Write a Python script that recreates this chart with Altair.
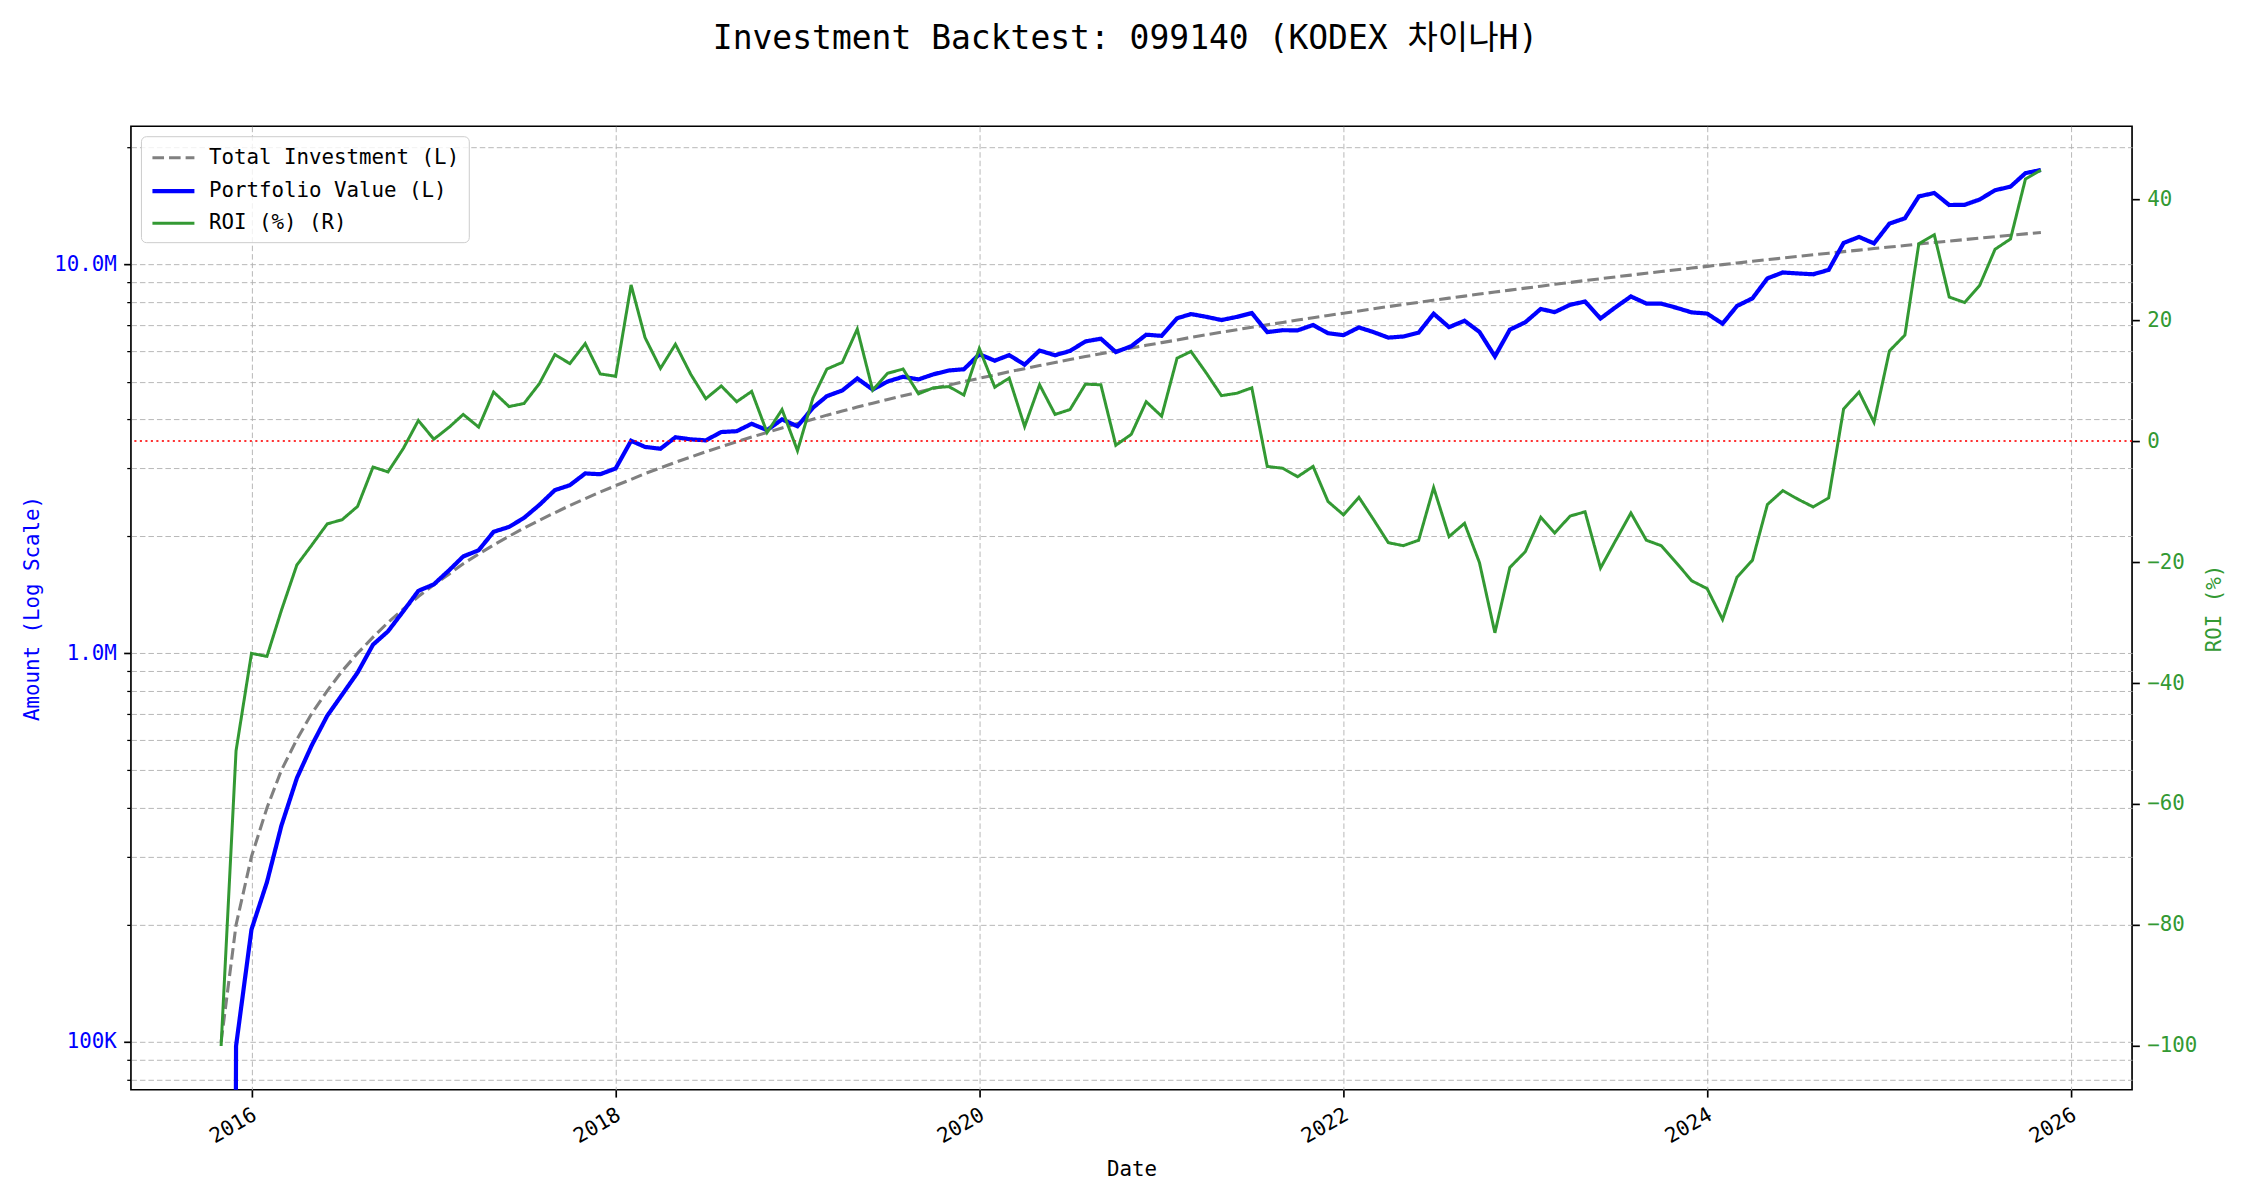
import altair as alt
import numpy as np
import pandas as pd

TITLE = "Investment Backtest: 099140 (KODEX 차이나H)"
SERIES = ["Total Investment (L)", "Portfolio Value (L)", "ROI (%) (R)"]
COLORS = ["#808080", "#0000ff", "#339933"]
DASHES = [[11.6, 5], [1, 0], [1, 0]]
WIDTHS = [3.1, 4.2, 3.0]

# monthly observation dates (month starts)
first_month = "2015-11-01"
n_months = 121
dates = pd.date_range(first_month, periods=n_months, freq="MS").strftime("%Y-%m-%d").tolist()

# cumulative amount invested, thousand KRW
investment_k = [
    100, 200, 300, 400, 500, 600, 700, 800, 900, 1000,
    1100, 1200, 1300, 1400, 1500, 1600, 1700, 1800, 1900, 2000,
    2100, 2200, 2300, 2400, 2500, 2600, 2700, 2800, 2900, 3000,
    3100, 3200, 3300, 3400, 3500, 3600, 3700, 3800, 3900, 4000,
    4100, 4200, 4300, 4400, 4500, 4600, 4700, 4800, 4900, 5000,
    5100, 5200, 5300, 5400, 5500, 5600, 5700, 5800, 5900, 6000,
    6100, 6200, 6300, 6400, 6500, 6600, 6700, 6800, 6900, 7000,
    7100, 7200, 7300, 7400, 7500, 7600, 7700, 7800, 7900, 8000,
    8100, 8200, 8300, 8400, 8500, 8600, 8700, 8800, 8900, 9000,
    9100, 9200, 9300, 9400, 9500, 9600, 9700, 9800, 9900, 10000,
    10100, 10200, 10300, 10400, 10500, 10600, 10700, 10800, 10900, 11000,
    11100, 11200, 11300, 11400, 11500, 11600, 11700, 11800, 11900, 12000,
    12100,
]

# portfolio value, thousand KRW
portfolio_k = [
    0, 97.6, 194.7, 257.6, 360, 477, 579.6, 690.4, 783, 892,
    1052.7, 1138.8, 1284.4, 1447.6, 1504.5, 1636.8, 1774.8, 1841.4, 2053.9, 2114,
    2230.2, 2409, 2628.9, 2707.2, 2902.5, 2888.6, 2988.9, 3522.4, 3395.9, 3360,
    3596, 3552, 3531, 3709.4, 3727.5, 3895.2, 3751.8, 3997.6, 3837.6, 4284,
    4587.9, 4746, 5095.5, 4769.6, 5004, 5147.4, 5066.6, 5222.4, 5341, 5380,
    5880.3, 5662.8, 5851.2, 5529.6, 6011.5, 5846.4, 5996.4, 6345.2, 6448.7, 5958,
    6167.1, 6603, 6558.3, 7276.8, 7462, 7339.2, 7202.5, 7337.2, 7507.2, 6706,
    6780.5, 6775.2, 6993.4, 6660, 6585, 6893.2, 6714.4, 6489.6, 6533.3, 6688,
    7476.3, 6904.4, 7171.2, 6711.6, 5805.5, 6802.6, 7107.9, 7691.2, 7547.2, 7884,
    8035.3, 7268, 7765.5, 8281.4, 7942, 7939.2, 7740.6, 7536.2, 7484.4, 7050,
    7827.5, 8190.6, 9218.5, 9547.2, 9492, 9444.6, 9694.2, 11372.4, 11782.9, 11341,
    12753.9, 13160, 14983.8, 15287.4, 14237, 14256.4, 14706.9, 15540.6, 15874.6, 17196,
    17520.8,
]

# return on investment, percent
roi_pct = [
    -100, -51.2, -35.1, -35.6, -28.0, -20.5, -17.2, -13.7, -13.0, -10.8,
    -4.3, -5.1, -1.2, 3.4, 0.3, 2.3, 4.4, 2.3, 8.1, 5.7,
    6.2, 9.5, 14.3, 12.8, 16.1, 11.1, 10.7, 25.8, 17.1, 12.0,
    16.0, 11.0, 7.0, 9.1, 6.5, 8.2, 1.4, 5.2, -1.6, 7.1,
    11.9, 13.0, 18.5, 8.4, 11.2, 11.9, 7.8, 8.8, 9.0, 7.6,
    15.3, 8.9, 10.4, 2.4, 9.3, 4.4, 5.2, 9.4, 9.3, -0.7,
    1.1, 6.5, 4.1, 13.7, 14.8, 11.2, 7.5, 7.9, 8.8, -4.2,
    -4.5, -5.9, -4.2, -10.0, -12.2, -9.3, -12.8, -16.8, -17.3, -16.4,
    -7.7, -15.8, -13.6, -20.1, -31.7, -20.9, -18.3, -12.6, -15.2, -12.4,
    -11.7, -21.0, -16.5, -11.9, -16.4, -17.3, -20.2, -23.1, -24.4, -29.5,
    -22.5, -19.7, -10.5, -8.2, -9.6, -10.9, -9.4, 5.3, 8.1, 3.1,
    14.9, 17.5, 32.6, 34.1, 23.8, 22.9, 25.7, 31.7, 33.4, 43.3,
    44.8,
]

roi_reference = [0]
left_ticks = [80000, 90000, 100000, 200000, 300000, 400000, 500000, 600000, 700000,
              800000, 900000, 1000000, 2000000, 3000000, 4000000, 5000000, 6000000,
              7000000, 8000000, 9000000, 10000000, 20000000]
right_ticks = [-100, -80, -60, -40, -20, 0, 20, 40]
year_ticks = [2016, 2018, 2020, 2022, 2024, 2026]

inv_df = pd.DataFrame({"date": dates, "amount": np.array(investment_k) * 1000.0,
                       "series": SERIES[0]})
port_vals = np.array(portfolio_k) * 1000.0
port_df = pd.DataFrame({"date": dates, "raw": port_vals,
                        "amount": np.where(port_vals > 0, port_vals, 1e-6),
                        "series": SERIES[1]})
roi_df = pd.DataFrame({"date": dates, "roi": roi_pct, "series": SERIES[2]})
zero_df = pd.DataFrame({"roi": roi_reference})

FONT = "DejaVu Sans Mono"
TFONT = "DejaVu Sans Mono, Noto Sans CJK KR, sans-serif"
FS = 20.8
GRID = dict(grid=True, gridColor="#b0b0b0", gridOpacity=0.9, gridDash=[5.5, 3], gridWidth=1)

leg = alt.Legend(title=None, orient="none", legendX=10, legendY=10, direction="vertical",
                 labelFont=FONT, labelFontSize=FS, labelColor="black", labelLimit=0,
                 symbolType="M-1,0H3", symbolSize=441, labelOffset=33, rowPadding=10,
                 padding=9, cornerRadius=5, strokeColor="#cccccc",
                 fillColor="rgba(255,255,255,0.8)", symbolOpacity=1)

color = alt.Color("series:N", scale=alt.Scale(domain=SERIES, range=COLORS), legend=leg)
dash = alt.StrokeDash("series:N", scale=alt.Scale(domain=SERIES, range=DASHES), legend=leg)
width = alt.StrokeWidth("series:N", scale=alt.Scale(type="ordinal", domain=SERIES, range=WIDTHS),
                        legend=leg)

x_enc = alt.X(
    "date:T",
    scale=alt.Scale(domain=[alt.DateTime(year=2015, month=5, date=4),
                            alt.DateTime(year=2026, month=5, date=3)]),
    axis=alt.Axis(values=[alt.DateTime(year=y, month=1, date=1) for y in year_ticks],
                  format="%Y", labelAngle=330, labelAlign="right", labelBaseline="top",
                  labelOffset=-2, labelPadding=7.3, tickSize=7.3, tickWidth=1.67,
                  tickColor="black", labelFont=FONT, labelFontSize=FS, labelColor="black",
                  labelOverlap=False, labelFlush=False, labelBound=False,
                  title="Date", titleFont=FONT, titleFontSize=FS, titleFontWeight="normal",
                  titleColor="black", titlePadding=13, domain=False, **GRID),
)

major_test = "indexof([100000, 1000000, 10000000], datum.value) >= 0"
y_left = alt.Y(
    "amount:Q",
    scale=alt.Scale(type="log", domain=[75300, 22710000], nice=False),
    axis=alt.Axis(orient="left", values=left_ticks, title="Amount (Log Scale)",
                  labelExpr=(f"{major_test} ? (datum.value >= 1000000 ? "
                             "format(datum.value / 1000000, '.1f') + 'M' : "
                             "format(datum.value / 1000, '.0f') + 'K') : ''"),
                  labelColor="blue", titleColor="blue", labelFont=FONT, labelFontSize=FS,
                  titleFont=FONT, titleFontSize=FS, titleFontWeight="normal",
                  tickSize={"condition": {"test": major_test, "value": 7.3}, "value": 4.2},
                  tickWidth={"condition": {"test": major_test, "value": 1.67}, "value": 1.25},
                  tickColor="black", labelPadding=7.3, labelOverlap=False, labelBound=False,
                  titlePadding=11, domain=False, **GRID),
)

y_right = alt.Y(
    "roi:Q",
    scale=alt.Scale(domain=[-107.24, 52.04], nice=False, zero=False),
    axis=alt.Axis(orient="right", values=right_ticks, title="ROI (%)", titleAngle=270,
                  labelExpr="datum.value < 0 ? '\u2212' + format(-datum.value, 'd') : format(datum.value, 'd')",
                  labelColor="#339933", titleColor="#339933", labelFont=FONT, labelFontSize=FS,
                  titleFont=FONT, titleFontSize=FS, titleFontWeight="normal",
                  tickSize=7.3, tickWidth=1.67, tickColor="black", labelPadding=7.3,
                  labelOverlap=False, titlePadding=28, domain=False, grid=False),
)

inv_line = alt.Chart(inv_df).mark_line(clip=True).encode(
    x=x_enc, y=y_left, color=color, strokeDash=dash, strokeWidth=width)
port_line = alt.Chart(port_df).mark_line(clip=True).encode(
    x=x_enc, y=y_left, color=color, strokeDash=dash, strokeWidth=width)
left = alt.layer(inv_line, port_line)

zero_rule = alt.Chart(zero_df).mark_rule(color="red", opacity=0.8, strokeWidth=2.1,
                                          strokeDash=[2.1, 3.4]).encode(y=y_right)
roi_line = alt.Chart(roi_df).mark_line(clip=True).encode(
    x=x_enc, y=y_right, color=color, strokeDash=dash, strokeWidth=width)
right = alt.layer(zero_rule, roi_line)

chart = alt.layer(left, right).resolve_scale(y="independent").properties(
    width=2002, height=964,
    autosize=alt.AutoSizeParams(type="none"),
    padding={"left": 123, "top": 118, "right": 110, "bottom": 100},
    title=alt.TitleParams(TITLE, font=TFONT, fontSize=33, fontWeight="normal", color="black",
                          anchor="middle", offset=70, dx=-6),
).configure_view(stroke="black", strokeWidth=1.67)

chart.save("out.html", embed_options={"renderer": "svg", "actions": False})
